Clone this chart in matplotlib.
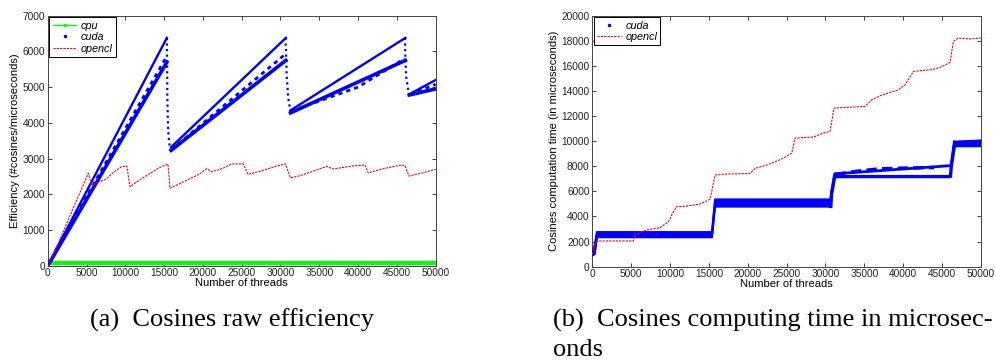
import numpy as np
import matplotlib
matplotlib.use("Agg")
import matplotlib.pyplot as plt
from matplotlib.lines import Line2D

# ---------------- data ----------------
# (a) efficiency, #cosines / microsecond
cpu_n = [0, 10000, 20000, 30000, 40000, 50000]
cpu_eff = [70, 70, 70, 70, 70, 70]

# cuda: upper and lower envelopes of the point cloud, per segment
cuda_up_n = [0, 500, 15360, np.nan, 15900, 30700, np.nan, 31300, 46100, np.nan, 46600, 50000]
cuda_up_eff = [0, 210, 6380, np.nan, 3320, 6380, np.nan, 4350, 6380, np.nan, 4800, 5200]
cuda_lo_n = [0, 500, 15360, np.nan, 15900, 30700, np.nan, 31300, 46100, np.nan, 46600, 50000]
cuda_lo_eff = [0, 180, 5700, np.nan, 3230, 5750, np.nan, 4280, 5750, np.nan, 4780, 4950]
# scattered cluster centre line
cuda_mid_n = [1000, 15300, np.nan, 16000, 30500, np.nan, 31400, 40000, 46000, np.nan, 46700, 50000]
cuda_mid_eff = [420, 5850, np.nan, 3260, 5900, np.nan, 4330, 5000, 5800, np.nan, 4790, 5080]
# drops between segments (dotted)
cuda_drop_n = [15360, 15380, 15420, 15500, 15650, 15800, np.nan,
               30650, 30700, 30800, 31000, 31300, np.nan,
               46050, 46100, 46200, 46400, 46600]
cuda_drop_eff = [6380, 5800, 4700, 3900, 3450, 3240, np.nan,
                 6380, 6100, 5330, 4700, 4300, np.nan,
                 6380, 5750, 5300, 5000, 4800]

ocl_eff_n = [0, 500, 5230, 5670, 6500, 7500, 8500, 9500, 10200, 10600, 11500, 13000,
             14500, 15500, 15760, 17500, 19500, 20490, 21130, 22500, 23700, 25200,
             25800, 27500, 29500, 30640, 31280, 32500, 34500, 35950, 36800, 39600,
             40900, 41300, 43500, 45600, 46050, 46560, 48500, 50000]
ocl_eff = [0, 200, 2590, 2260, 2340, 2420, 2620, 2770, 2790, 2212, 2350, 2560,
           2760, 2845, 2170, 2350, 2560, 2720, 2630, 2720, 2850, 2850,
           2560, 2650, 2790, 2850, 2460, 2520, 2670, 2780, 2710, 2800,
           2820, 2600, 2730, 2820, 2800, 2510, 2610, 2700]

# (b) computing time, microseconds
cuda_t_n = [0, 300, 600, 15400, 15800, 30700, np.nan, 46600, 50000]
cuda_t_lo = [900, 1000, 2350, 2350, 4800, 4800, np.nan, 9600, 9600]
cuda_t_hi = [1100, 1700, 2750, 2750, 5350, 5350, np.nan, 9950, 10050]
cuda_t3_n = [30700, 30800, 31200, 46100, 46200, 46600]
cuda_t3_lo = [4800, 5800, 7180, 7180, 8000, 9600]
cuda_t3_hi = [5350, 5900, 7400, 8050, 8050, 9950]
cuda_t3_mid_n = [31300, 34000, 37000, 40000, 44000]
cuda_t3_mid = [7350, 7600, 7800, 7850, 7900]

ocl_t_n = [0, 500, 5280, 5600, 7000, 8720, 9800, 10450, 10870, 12160, 13870, 15160,
           15800, 17300, 20320, 20970, 22470, 23760, 24590, 25670, 26100, 28450,
           29740, 30600, 31110, 35100, 35970, 37040, 39400, 40260, 41340, 43700,
           44770, 46050, 46470, 47110, 48620, 50000]
ocl_t = [1000, 2050, 2050, 2600, 2920, 3110, 3590, 4390, 4780, 4830, 5000, 5370,
         7300, 7380, 7430, 7840, 8100, 8420, 8650, 9050, 10250, 10330,
         10650, 10780, 12640, 12770, 13300, 13620, 14100, 14500, 15560, 15700,
         15880, 16280, 17950, 18220, 18140, 18220]

x_ticks = list(range(0, 50001, 5000))
a_y_ticks = list(range(0, 7001, 1000))
b_y_ticks = list(range(0, 20001, 2000))

# ---------------- figure ----------------
plt.rcParams['font.family'] = ['Liberation Sans', 'DejaVu Sans']
fig = plt.figure(figsize=(9.96, 3.63), dpi=100)
BLUE, RED, GREEN = (0, 0, 1), (1, 0, 0), (0, 1, 0)

def style(ax, yticks, ymax, ylabel):
    ax.set_xlim(0, 50000)
    ax.set_ylim(0, ymax)
    ax.set_xticks(x_ticks)
    ax.set_yticks(yticks)
    ax.tick_params(direction='in', length=3, width=0.6, labelsize=7.3,
                   top=True, right=True, pad=2, colors='#222222')
    for s in ax.spines.values():
        s.set_linewidth(0.7)
        s.set_color('#444444')
    ax.set_xlabel('Number of threads', fontsize=8, labelpad=0)
    ax.set_ylabel(ylabel, fontsize=8, labelpad=2)

def legend(ax, handles, labels):
    lg = ax.legend(handles, labels, loc='upper left',
                   prop={'size': 7.8, 'style': 'italic'}, handlelength=2.2,
                   handletextpad=0.4, borderpad=0.3, labelspacing=0.15,
                   borderaxespad=0.15, fancybox=False, framealpha=1)
    lg.get_frame().set_edgecolor('black')
    lg.get_frame().set_linewidth(0.7)

# (a)
ax1 = fig.add_axes([0.0479, 0.268, 0.3895, 0.6887])
ax1.plot(cpu_n, cpu_eff, color=GREEN, lw=3, zorder=2)
ax1.plot(cuda_lo_n, cuda_lo_eff, color=BLUE, lw=2.6, zorder=3)
ax1.plot(cuda_mid_n, cuda_mid_eff, color=BLUE, lw=2.0, ls=(0, (1.5, 1.5)), zorder=3)
ax1.plot(cuda_up_n, cuda_up_eff, color=BLUE, lw=1.7, zorder=3)
ax1.plot(cuda_drop_n, cuda_drop_eff, color=BLUE, lw=1.6, ls=(0, (1, 1.5)), zorder=3)
ax1.plot(ocl_eff_n, ocl_eff, color=RED, lw=0.8, ls=(0, (2, 1)), zorder=4)
style(ax1, a_y_ticks, 7000, 'Efficiency (#cosines/microseconds)')
legend(ax1,
       [Line2D([], [], color=GREEN, lw=1, marker='.', markersize=3),
        Line2D([], [], color=BLUE, ls='none', marker='.', markersize=3),
        Line2D([], [], color=RED, lw=0.8, ls=(0, (2, 1)))],
       ['cpu', 'cuda', 'opencl'])

# (b)
ax2 = fig.add_axes([0.5947, 0.2653, 0.390, 0.6915])
ax2.fill_between(cuda_t_n, cuda_t_lo, cuda_t_hi, color=BLUE, lw=1.2, zorder=3)
ax2.plot(cuda_t_n, cuda_t_lo, color=BLUE, lw=1.5, zorder=3)
ax2.plot(cuda_t_n, cuda_t_hi, color=BLUE, lw=1.5, zorder=3)
ax2.plot(cuda_t3_n, cuda_t3_lo, color=BLUE, lw=2.4, zorder=3)
ax2.plot(cuda_t3_n, cuda_t3_hi, color=BLUE, lw=2.0, zorder=3)
ax2.plot(cuda_t3_mid_n, cuda_t3_mid, color=BLUE, lw=2.5, ls=(0, (3, 1.5)), zorder=3)
ax2.plot(ocl_t_n, ocl_t, color=RED, lw=0.8, ls=(0, (2, 1)), zorder=4)
style(ax2, b_y_ticks, 20000, 'Cosines computation time (in microseconds)')
legend(ax2,
       [Line2D([], [], color=BLUE, ls='none', marker='.', markersize=3),
        Line2D([], [], color=RED, lw=0.8, ls=(0, (2, 1)))],
       ['cuda', 'opencl'])

# captions
cap = dict(family='Liberation Serif', fontsize=19, va='center')
fig.text(232 / 996, 1 - 320 / 363, '(a)  Cosines raw efficiency', ha='center', **cap)
fig.text(553 / 996, 1 - 320 / 363, '(b)  Cosines computing time in microsec-', ha='left', **cap)
fig.text(553 / 996, 1 - 350 / 363, 'onds', ha='left', **cap)

fig.savefig('out.png', dpi=100)
